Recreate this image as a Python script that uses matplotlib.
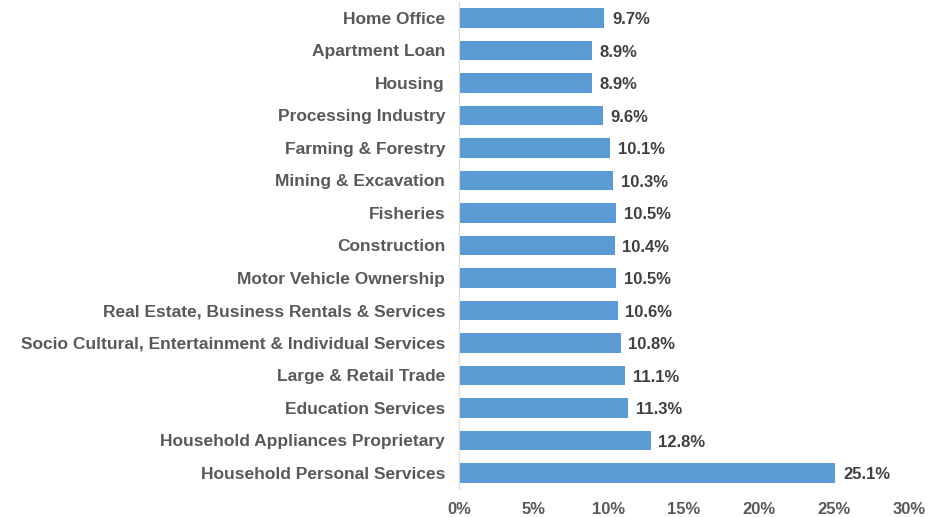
import matplotlib.pyplot as plt
from matplotlib.ticker import FuncFormatter

categories = [
    "Home Office",
    "Apartment Loan",
    "Housing",
    "Processing Industry",
    "Farming & Forestry",
    "Mining & Excavation",
    "Fisheries",
    "Construction",
    "Motor Vehicle Ownership",
    "Real Estate, Business Rentals & Services",
    "Socio Cultural, Entertainment & Individual Services",
    "Large & Retail Trade",
    "Education Services",
    "Household Appliances Proprietary",
    "Household Personal Services",
]
values = [9.7, 8.9, 8.9, 9.6, 10.1, 10.3, 10.5, 10.4, 10.5, 10.6, 10.8, 11.1, 11.3, 12.8, 25.1]

plt.rcParams['font.family'] = ['Liberation Sans', 'DejaVu Sans']

fig = plt.figure(figsize=(9.4, 5.17), dpi=100)
ax = fig.add_axes([0.4883, 0.0537, 0.4787, 0.943])

pos = list(range(len(categories)))[::-1]
ax.barh(pos, values, height=0.6, color="#5B9BD5")

for p, v in zip(pos, values):
    ax.text(v + 0.5, p - 0.06, f"{v:.1f}%", va="center", ha="left",
            fontsize=12, fontweight="bold", color="#404040")

ax.set_yticks(pos)
ax.set_yticklabels(categories, fontsize=12.5, fontweight="bold", color="#595959")
ax.set_ylim(-0.5, len(categories) - 0.5)
ax.set_xlim(0, 30)
ax.set_xticks(range(0, 31, 5))
ax.xaxis.set_major_formatter(FuncFormatter(lambda x, _: f"{x:.0f}%"))
for lab in ax.get_xticklabels():
    lab.set_fontweight("bold")
    lab.set_color("#595959")
    lab.set_fontsize(12)

ax.tick_params(axis="both", length=0)
ax.tick_params(axis="y", pad=10)
ax.tick_params(axis="x", pad=9)
for s in ["top", "right", "bottom"]:
    ax.spines[s].set_visible(False)
ax.spines["left"].set_color("#D9D9D9")

fig.savefig("out.png", dpi=100)
